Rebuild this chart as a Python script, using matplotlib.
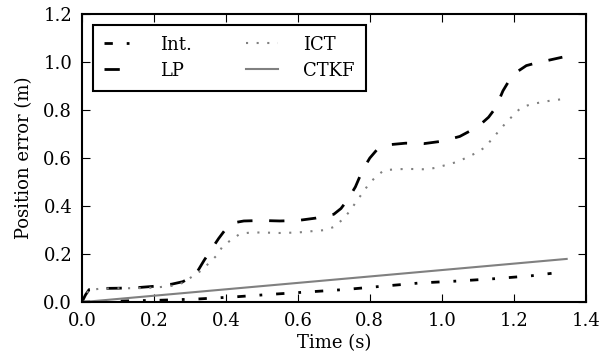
import matplotlib
matplotlib.use("Agg")
from matplotlib import pyplot as plt
import numpy as np

# values
lp_t = [0, 0.01, 0.02, 0.05, 0.1, 0.15, 0.2, 0.25, 0.28, 0.3, 0.32, 0.34, 0.36, 0.38, 0.40, 0.42,
        0.45, 0.5, 0.55, 0.6, 0.65, 0.70, 0.72, 0.74, 0.76, 0.78, 0.80, 0.82, 0.85, 0.9, 0.95,
        1.0, 1.05, 1.1, 1.13, 1.15, 1.17, 1.19, 1.21, 1.235, 1.26, 1.29, 1.32, 1.335]
lp_err = [0.0, 0.03, 0.052, 0.057, 0.058, 0.06, 0.066, 0.075, 0.085, 0.10, 0.125, 0.175, 0.22,
          0.265, 0.305, 0.33, 0.338, 0.34, 0.338, 0.34, 0.35, 0.366, 0.39, 0.43, 0.48, 0.55, 0.60,
          0.635, 0.655, 0.662, 0.66, 0.67, 0.69, 0.73, 0.77, 0.81, 0.88, 0.93, 0.96, 0.985, 0.995,
          1.005, 1.015, 1.02]

ict_t = [0, 0.01, 0.02, 0.05, 0.1, 0.15, 0.2, 0.25, 0.28, 0.3, 0.33, 0.355, 0.375, 0.39, 0.415,
         0.44, 0.47, 0.5, 0.55, 0.6, 0.65, 0.675, 0.70, 0.725, 0.745, 0.763, 0.78, 0.795, 0.815,
         0.84, 0.9, 0.958, 0.985, 1.045, 1.08, 1.1, 1.12, 1.14, 1.16, 1.18, 1.2, 1.22, 1.25,
         1.28, 1.305, 1.335]
ict_err = [0.0, 0.03, 0.05, 0.056, 0.058, 0.058, 0.06, 0.068, 0.08, 0.10, 0.13, 0.165, 0.195,
           0.23, 0.26, 0.285, 0.29, 0.29, 0.288, 0.29, 0.297, 0.30, 0.313, 0.345, 0.38, 0.42,
           0.455, 0.487, 0.52, 0.55, 0.555, 0.553, 0.56, 0.585, 0.61, 0.625, 0.645, 0.68, 0.715,
           0.75, 0.78, 0.81, 0.825, 0.833, 0.84, 0.845]

int_t = [0, 0.115, 0.217, 0.32, 0.425, 0.53, 0.633, 0.735, 0.84, 0.94, 1.045, 1.15, 1.25, 1.305]
int_err = [0, 0.005, 0.008, 0.013, 0.022, 0.033, 0.043, 0.053, 0.067, 0.08, 0.088, 0.098, 0.11, 0.12]

ctkf_t = [0, 1.347]
ctkf_err = [0, 0.18]

plt.rcParams['font.family'] = 'serif'
plt.rcParams['font.serif'] = ['DejaVu Serif']
plt.rcParams['font.size'] = 13
plt.rcParams['xtick.direction'] = 'in'
plt.rcParams['ytick.direction'] = 'in'
plt.rcParams['xtick.top'] = True
plt.rcParams['ytick.right'] = True
plt.rcParams['xtick.major.size'] = 6
plt.rcParams['ytick.major.size'] = 6
plt.rcParams['xtick.major.pad'] = 7
plt.rcParams['ytick.major.pad'] = 7

fig = plt.figure(figsize=(6.02, 3.58), dpi=100)
ax = fig.add_axes([0.136, 0.156, 0.837, 0.805])

ax.plot(int_t, int_err, color='k', lw=2, dashes=(3, 5, 1, 5), label='Int.')
ax.plot(lp_t, lp_err, color='k', lw=2, dashes=(5.5, 6), label='LP')
ax.plot(ict_t, ict_err, color='0.5', lw=1.5, dashes=(1, 4.1), label='ICT')
ax.plot(ctkf_t, ctkf_err, color='0.5', lw=1.5, label='CTKF')

ax.set_xlim(0, 1.4)
ax.set_ylim(0, 1.2)
ax.set_xticks(np.arange(0, 1.41, 0.2))
ax.set_yticks(np.arange(0, 1.21, 0.2))
ax.set_xlabel('Time (s)', labelpad=3)
ax.set_ylabel('Position error (m)', labelpad=7)
for s in ax.spines.values():
    s.set_linewidth(1.5)

leg = ax.legend(loc='upper left', ncol=2, fancybox=False, framealpha=1,
                edgecolor='k', borderaxespad=0.6, borderpad=0.6,
                handlelength=1.75, handletextpad=1.4, columnspacing=3.0,
                labelspacing=0.45)
leg.get_frame().set_linewidth(1.5)

fig.savefig('out.png', dpi=100)
